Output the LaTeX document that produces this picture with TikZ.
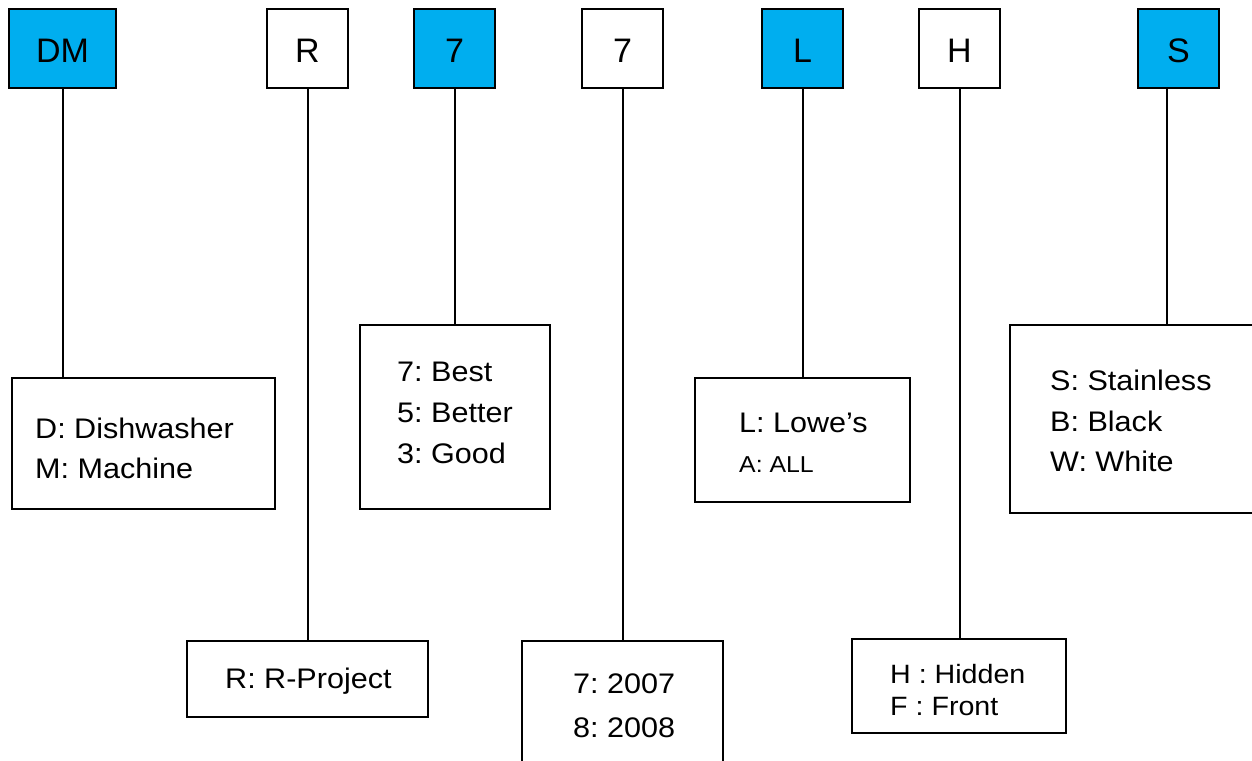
\documentclass[tikz,border=0pt]{standalone}
\usepackage{fontspec}
\setmainfont{Liberation Sans}
\newfontfamily\bodyfont{Liberation Sans}[FakeStretch=1.08]
\definecolor{codeblue}{RGB}{0,174,239}
\frenchspacing
\tikzset{
  codebox/.style={draw=black, line width=2pt, minimum width=81pt, minimum height=79pt,
    inner sep=0pt, text height=29pt, text depth=0pt, font=\fontsize{34}{40}\selectfont, fill=white},
  codefill/.style={codebox, fill=codeblue},
  legend/.style={draw=black, line width=2pt, inner sep=0pt, fill=white},
  txt/.style={anchor=base west, inner sep=0pt, font=\bodyfont\fontsize{28.3}{32}\selectfont},
  txtsmall/.style={txt, font=\bodyfont\fontsize{23}{26}\selectfont},
  txtmid/.style={txt, font=\bodyfont\fontsize{26.5}{30}\selectfont},
  link/.style={line width=2pt, draw=black}
}
\begin{document}
\begin{tikzpicture}[x=1pt,y=-1pt]
\useasboundingbox[fill=white] (0,0) rectangle (1252,760);
% top code boxes
\node[codefill, minimum width=107pt] (tDM) at (62.5,48.5) {DM};
\node[codebox] (tR) at (307.5,48.5) {R};
\node[codefill] (tQ) at (454.5,48.5) {7};
\node[codebox] (tY) at (622.5,48.5) {7};
\node[codefill] (tL) at (802.5,48.5) {L};
\node[codebox] (tH) at (959.5,48.5) {H};
\node[codefill] (tS) at (1178.5,48.5) {S};
% legend boxes
\node[legend, minimum width=263pt, minimum height=131pt] (dmb) at (143.5,443.5) {};
\node[legend, minimum width=241pt, minimum height=76pt] (rb) at (307.5,679) {};
\node[legend, minimum width=190pt, minimum height=184pt] (qb) at (455,417) {};
\node[legend, minimum width=201pt, minimum height=159pt] (yb) at (622.5,720.5) {};
\node[legend, minimum width=215pt, minimum height=124pt] (lb) at (802.5,440) {};
\node[legend, minimum width=214pt, minimum height=94pt] (hb) at (959,686) {};
\node[legend, minimum width=260pt, minimum height=188pt] (sb) at (1140,419) {};
% connectors
\draw[link] (tDM.south) -- (tDM.south |- dmb.north);
\draw[link] (tR.south) -- (tR.south |- rb.north);
\draw[link] (tQ.south) -- (tQ.south |- qb.north);
\draw[link] (tY.south) -- (tY.south |- yb.north);
\draw[link] (tL.south) -- (tL.south |- lb.north);
\draw[link] (tH.south) -- (tH.south |- hb.north);
\coordinate (sTop) at ([xshift=-11.5pt]tS.south);
\draw[link] (sTop) -- (sTop |- sb.north);
% legend texts
\node[txt] (dm1) at (35,438) {D: Dishwasher};
\node[txt] (dm2) at (35,478) {M: Machine};
\node[txt] (r1) at (225,688) {R: R-Project};
\node[txt] (q1) at (397,381) {7: Best};
\node[txt] (q2) at (397,422) {5: Better};
\node[txt] (q3) at (397,463) {3: Good};
\node[txt] (y1) at (573,693) {7: 2007};
\node[txt] (y2) at (573,737) {8: 2008};
\node[txt] (l1) at (739,432) {L: Lowe’s};
\node[txtsmall] (l2) at (739,472) {A: ALL};
\node[txtmid] (h1) at (890,683) {H : Hidden};
\node[txtmid] (h2) at (890,715) {F : Front};
\node[txt] (s1) at (1050,390) {S: Stainless};
\node[txt] (s2) at (1050,431) {B: Black};
\node[txt] (s3) at (1050,471) {W: White};
\end{tikzpicture}
\end{document}
